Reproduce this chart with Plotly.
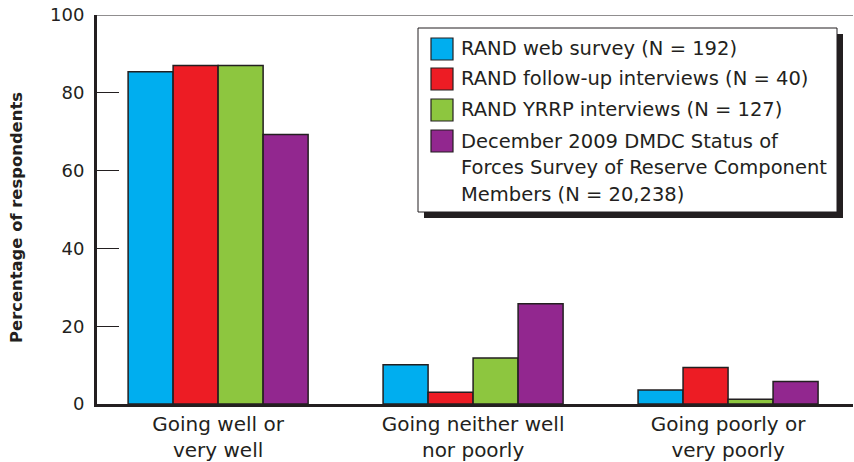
import plotly.graph_objects as go

categories = ["Going well or<br>very well", "Going neither well<br>nor poorly", "Going poorly or<br>very poorly"]
series_names = [
    "RAND web survey (N = 192)",
    "RAND follow-up interviews (N = 40)",
    "RAND YRRP interviews (N = 127)",
    "December 2009 DMDC Status of<br>Forces Survey of Reserve Component<br>Members (N = 20,238)",
]
web_survey = [85.4, 10.1, 3.6]
followup = [87.0, 3.0, 9.4]
yrrp = [87.0, 11.8, 1.2]
dmdc = [69.3, 25.8, 5.8]
colors = ["#00aeef", "#ed1c24", "#8dc63f", "#92278f"]
y_ticks = [0, 20, 40, 60, 80, 100]
y_title = "Percentage of respondents"

series_values = [web_survey, followup, yrrp, dmdc]
FONT = "DejaVu Sans"
DARK = "#231f20"

fig = go.Figure()
for name, vals, col in zip(series_names, series_values, colors):
    fig.add_trace(go.Bar(
        x=list(range(len(categories))), y=vals, name=name,
        marker=dict(color=col, line=dict(color=DARK, width=1.5)),
        showlegend=False,
    ))

W, H = 854, 462
ml, mr, mt, mb = 97, 1, 15, 58
pw, ph = W - ml - mr, H - mt - mb

def px(x):
    return (x - ml) / pw

def py(y):
    return (H - mb - y) / ph

shapes = []
annotations = []
# top frame line
shapes.append(dict(type="line", xref="paper", yref="y", x0=0, x1=1, y0=100, y1=100,
                   line=dict(color=DARK, width=1.2)))
# legend shadow and box
shapes.append(dict(type="rect", xref="paper", yref="paper",
                   x0=px(424), x1=px(843), y0=py(218), y1=py(34),
                   fillcolor=DARK, line=dict(width=0)))
shapes.append(dict(type="rect", xref="paper", yref="paper",
                   x0=px(418), x1=px(837), y0=py(212), y1=py(28),
                   fillcolor="white", line=dict(color=DARK, width=1)))
tops = [38, 68, 99, 130]
for i, (name, col) in enumerate(zip(series_names, colors)):
    t = tops[i]
    shapes.append(dict(type="rect", xref="paper", yref="paper",
                       x0=px(431), x1=px(453), y0=py(t + 22), y1=py(t),
                       fillcolor=col, line=dict(color=DARK, width=1.2)))
    for j, line in enumerate(name.split("<br>")):
        annotations.append(dict(xref="paper", yref="paper", x=px(459), y=py(t + 11 + 26.5 * j),
                                text=line, showarrow=False, xanchor="left", yanchor="middle",
                                font=dict(family=FONT, size=19.5, color=DARK)))
# y axis title
annotations.append(dict(xref="paper", yref="paper", x=px(17), y=py(218),
                        text="<b>" + y_title + "</b>", textangle=-90, showarrow=False,
                        xanchor="center", yanchor="middle",
                        font=dict(family=FONT, size=16.4, color=DARK)))

fig.update_layout(
    width=W, height=H,
    margin=dict(l=ml, r=mr, t=mt, b=mb, autoexpand=False),
    paper_bgcolor="white", plot_bgcolor="white",
    barmode="group", bargap=0.294, bargroupgap=0,
    font=dict(family=FONT, color=DARK),
    shapes=shapes, annotations=annotations,
    xaxis=dict(
        range=[-0.475, 2.49], tickmode="array",
        tickvals=list(range(len(categories))), ticktext=categories,
        showline=True, linecolor=DARK, linewidth=3, ticks="",
        showgrid=False, zeroline=False, automargin=False,
        tickfont=dict(family=FONT, size=20, color=DARK),
    ),
    yaxis=dict(
        range=[0, 100], tickvals=y_ticks,
        showline=True, linecolor=DARK, linewidth=3,
        ticks="inside", ticklen=22, tickwidth=1.3, tickcolor=DARK,
        showgrid=False, zeroline=False, automargin=False,
        tickfont=dict(family=FONT, size=18, color=DARK),
        ticklabelstandoff=6,
    ),
)

fig.write_html("out.html", config={"displayModeBar": False},
               post_script="document.body.style.margin='0';document.body.style.padding='0';")
